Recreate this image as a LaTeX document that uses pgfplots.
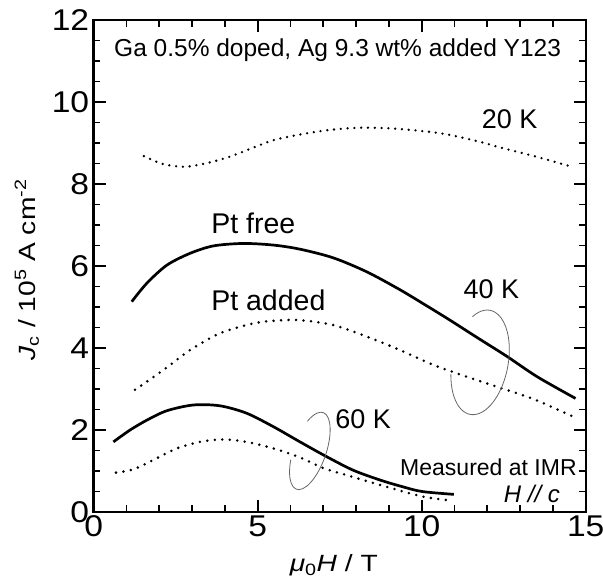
\documentclass[border=0pt]{standalone}
\usepackage{fontspec}
\setmainfont{Liberation Sans}
\newfontfamily\tickfont[FakeStretch=1.12]{Liberation Sans}
\newfontfamily\labfont[FakeStretch=1.2]{Liberation Sans}
\usepackage{pgfplots}
\pgfplotsset{compat=1.18}
\begin{document}
\begin{tikzpicture}
\useasboundingbox (-93.7pt,-67pt) rectangle (509.3pt,512pt);
\begin{axis}[
  at={(0,0)}, anchor=south west,
  scale only axis, width=492pt, height=492pt,
  xmin=0, xmax=15, ymin=0, ymax=12,
  xtick={0,5,10,15}, minor x tick num=4,
  ytick={0,2,4,6,8,10,12}, minor y tick num=3,
  tick align=inside,
  major tick length=12pt, minor tick length=6.5pt,
  tick style={black, line width=1.8pt},
  axis line style={line width=2.4pt, line join=miter},
  /pgf/number format/assume math mode=true,
  tick label style={font=\tickfont\fontsize{30}{36}\selectfont},
  yticklabel style={xshift=-1pt},
  clip=false,
  xlabel={\textit{μ}\textsubscript{0}\textit{H} / T},
  ylabel={\textit{J}\textsubscript{c} / 10\textsuperscript{5} A cm\textsuperscript{-2}},
  xlabel style={at={(axis description cs:0.488,-0.121)}, anchor=base, font=\labfont\fontsize{23.5}{28}\selectfont},
  ylabel style={at={(axis description cs:-0.119,0.492)}, anchor=base, rotate=0, font=\labfont\fontsize{23.5}{28}\selectfont},
]
% 20 K
\addplot[black, smooth, line width=2.6pt, line cap=round, dash pattern=on 0pt off 6.8pt] coordinates {
(1.53,8.68) (2.1,8.49) (2.76,8.42) (3.4,8.50) (4.16,8.67) (5.33,9.03) (5.92,9.15) (7.0,9.30) (8.02,9.37) (8.96,9.36) (9.9,9.30) (10.71,9.22) (11.77,9.03) (12.35,8.9) (13.52,8.66) (14.58,8.42)};
% 40 K Pt free
\addplot[black, smooth, line width=2.7pt] coordinates {
(1.16,5.13) (1.62,5.58) (2.23,6.02) (2.94,6.31) (3.65,6.49) (4.56,6.55) (5.48,6.51) (6.29,6.41) (7.3,6.2) (8.32,5.86) (9.34,5.42) (10.15,5.03) (10.86,4.68) (11.68,4.26) (12.59,3.8) (13.52,3.3) (14.69,2.77)};
% 40 K Pt added
\addplot[black, smooth, line width=2.8pt, line cap=round, dash pattern=on 0pt off 7.5pt] coordinates {
(1.26,2.98) (2.12,3.46) (2.94,3.95) (3.85,4.36) (4.87,4.6) (5.6,4.67) (6.29,4.68) (7.3,4.56) (8.32,4.28) (9.34,3.95) (10.35,3.59) (11.37,3.3) (12.39,3.03) (13.0,2.87) (13.52,2.72) (14.58,2.34)};
% 60 K Pt free
\addplot[black, smooth, line width=2.7pt] coordinates {
(0.6,1.71) (1.11,2.0) (1.62,2.24) (2.23,2.47) (3.04,2.61) (3.85,2.59) (4.66,2.41) (5.48,2.08) (6.29,1.71) (7.1,1.35) (7.91,1.02) (8.73,0.78) (9.4,0.62) (10.01,0.5) (10.98,0.43)};
% 60 K Pt added
\addplot[black, smooth, line width=2.8pt, line cap=round, dash pattern=on 0pt off 7.5pt] coordinates {
(0.68,0.96) (1.21,1.04) (1.82,1.27) (2.53,1.55) (3.24,1.71) (3.95,1.77) (4.66,1.71) (5.48,1.55) (6.29,1.33) (7.0,1.07) (7.71,0.9) (8.73,0.66) (10.01,0.38) (10.91,0.28)};

\node[anchor=base west, inner sep=0pt, font=\fontsize{24.5}{29}\selectfont] at (axis cs:0.62,11.1) {Ga 0.5\% doped, Ag 9.3 wt\% added Y123};
\node[anchor=base west, inner sep=0pt, font=\fontsize{27}{32}\selectfont] at (axis cs:11.83,9.36) {20 K};
\node[anchor=base west, inner sep=0pt, font=\fontsize{28.5}{34}\selectfont] at (axis cs:3.58,6.8) {Pt free};
\node[anchor=base west, inner sep=0pt, font=\fontsize{28.5}{34}\selectfont] at (axis cs:3.58,4.91) {Pt added};
\node[anchor=base west, inner sep=0pt, font=\fontsize{27}{32}\selectfont] at (axis cs:11.27,5.21) {40 K};
\node[anchor=base west, inner sep=0pt, font=\fontsize{27}{32}\selectfont] at (axis cs:7.36,2.04) {60 K};
\node[anchor=base east, inner sep=0pt, font=\fontsize{23}{28}\selectfont] at (axis cs:14.73,0.88) {Measured at IMR};
\node[anchor=base east, inner sep=0pt, font=\fontsize{24}{29}\selectfont\itshape] at (axis cs:14.22,0.24) {H // c};
\coordinate (e40) at (axis cs:11.78,3.65);
\coordinate (e60) at (axis cs:6.59,1.49);
\end{axis}
\begin{scope}[shift={(e40)}, rotate=79.2]
\draw[black!60, line width=0.8pt] (109:53pt and 28pt) arc[start angle=109, end angle=395, x radius=53pt, y radius=28pt];
\end{scope}
\begin{scope}[shift={(e60)}, rotate=70.8]
\draw[black!60, line width=0.8pt] (111:40.6pt and 16.2pt) arc[start angle=111, end angle=408, x radius=40.6pt, y radius=16.2pt];
\end{scope}
\end{tikzpicture}
\end{document}
